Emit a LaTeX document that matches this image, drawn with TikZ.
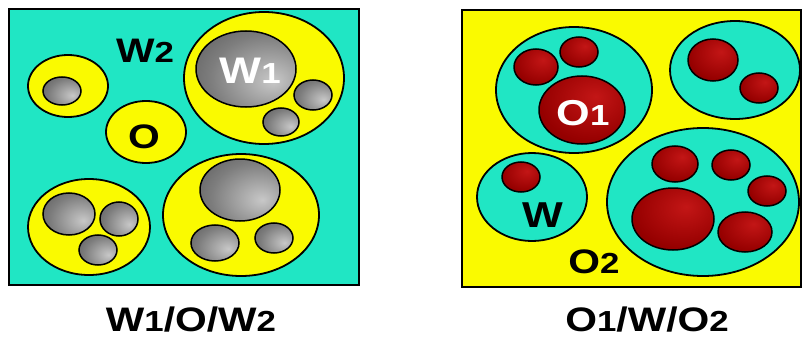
\documentclass[tikz,border=0pt]{standalone}
\usepackage{fontspec}
\setmainfont{Liberation Sans}
\definecolor{aqua}{RGB}{32,230,196}
\definecolor{lemon}{RGB}{250,250,0}
\definecolor{gLight}{RGB}{200,200,200}
\definecolor{gMid}{RGB}{125,125,125}
\definecolor{gDark}{RGB}{66,66,66}
\definecolor{rLight}{RGB}{195,22,22}
\definecolor{rMid}{RGB}{150,0,0}
\definecolor{rDark}{RGB}{96,0,0}
% shaded droplets: light spot offset from the centre
\pgfdeclareradialshading{grayball}{\pgfpoint{14bp}{-8bp}}{%
  color(0bp)=(gLight); color(28bp)=(gMid); color(58bp)=(gDark); color(100bp)=(gDark)}
\pgfdeclareradialshading{redball}{\pgfpoint{8bp}{10bp}}{%
  color(0bp)=(rLight); color(30bp)=(rMid); color(60bp)=(rDark); color(100bp)=(rDark)}
\newcommand\sdig[1]{{\fontsize{29}{32}\selectfont #1}}
\begin{document}
\begin{tikzpicture}[x=1pt,y=-1pt,
  frame/.style={draw=black,line width=1.8pt},
  shell/.style={draw=black,line width=1.8pt},
  gdrop/.style={draw=black,line width=1.5pt,shading=grayball},
  rdrop/.style={draw=black,line width=1.5pt,shading=redball},
  lab/.style={font=\fontsize{34}{40}\selectfont\bfseries,inner sep=0pt,xscale=1.2,anchor=base}]
\useasboundingbox[fill=white] (0,0) rectangle (803,337);

% ---- W1/O/W2 emulsion ----
\path[frame,fill=aqua] (9,9) rectangle (359,285);
\path[shell,fill=lemon] (68,86) ellipse [x radius=40,y radius=31];
\path[gdrop] (62,91) ellipse [x radius=19,y radius=14];
\path[shell,fill=lemon] (146,132) ellipse [x radius=40,y radius=31];
\path[shell,fill=lemon] (264,78) ellipse [x radius=80,y radius=66];
\path[gdrop] (246,69) ellipse [x radius=50,y radius=38];
\path[gdrop] (313,95) ellipse [x radius=19,y radius=15];
\path[gdrop] (281,122) ellipse [x radius=18,y radius=14];
\path[shell,fill=lemon] (89,227) ellipse [x radius=61,y radius=48];
\path[gdrop] (69,214) ellipse [x radius=26,y radius=21];
\path[gdrop] (119,219) ellipse [x radius=19,y radius=17];
\path[gdrop] (98,250) ellipse [x radius=19,y radius=15];
\path[shell,fill=lemon] (241,215) ellipse [x radius=78,y radius=61];
\path[gdrop] (240,190) ellipse [x radius=40,y radius=31];
\path[gdrop] (215,243) ellipse [x radius=24,y radius=18];
\path[gdrop] (274,238) ellipse [x radius=19,y radius=15];

\node[lab] (w2) at (145,63) {W\sdig{2}};
\node[lab,text=white,font=\fontsize{37}{42}\selectfont\bfseries] (w1) at (250,83) {W\sdig{1}};
\node[lab] (o) at (144,148) {O};
\node[lab] (capA) at (191,331) {W\sdig{1}/O/W\sdig{2}};

% ---- O1/W/O2 emulsion ----
\path[frame,fill=lemon] (462,10) rectangle (801,287);
\path[shell,fill=aqua] (574,90) ellipse [x radius=78,y radius=63];
\path[rdrop] (582,110) ellipse [x radius=43,y radius=34];
\path[rdrop] (536,67) ellipse [x radius=22,y radius=18];
\path[rdrop] (579,52) ellipse [x radius=19,y radius=15];
\path[shell,fill=aqua] (735,70) ellipse [x radius=65,y radius=49];
\path[rdrop] (713,60) ellipse [x radius=25,y radius=21];
\path[rdrop] (759,88) ellipse [x radius=19,y radius=15];
\path[shell,fill=aqua] (532,197) ellipse [x radius=55,y radius=44];
\path[rdrop] (521,177) ellipse [x radius=19,y radius=15];
\path[shell,fill=aqua] (703,202) ellipse [x radius=96,y radius=74];
\path[rdrop] (673,219) ellipse [x radius=41,y radius=31];
\path[rdrop] (675,164) ellipse [x radius=23,y radius=18];
\path[rdrop] (731,165) ellipse [x radius=19,y radius=15];
\path[rdrop] (767,191) ellipse [x radius=19,y radius=15];
\path[rdrop] (745,232) ellipse [x radius=27,y radius=20];

\node[lab,text=white,font=\fontsize{36}{42}\selectfont\bfseries] (o1) at (583,125) {O\sdig{1}};
\node[lab,font=\fontsize{36}{42}\selectfont\bfseries] (w) at (543,227) {W};
\node[lab] (o2) at (594,273) {O\sdig{2}};
\node[lab] (capB) at (647,331) {O\sdig{1}/W/O\sdig{2}};
\end{tikzpicture}
\end{document}
